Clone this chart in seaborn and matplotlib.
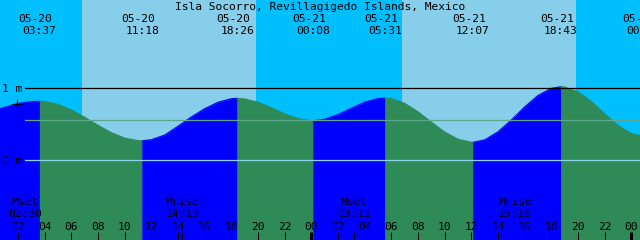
import matplotlib
matplotlib.use("Agg")
import matplotlib.pyplot as plt
import matplotlib.transforms as mtrans
import seaborn as sns
import pandas as pd

# ---------------- data ----------------
title = "Isla Socorro, Revillagigedo Islands, Mexico"

hours = list(range(0, 50))
levels = [0.69, 0.735, 0.79, 0.815, 0.817, 0.777, 0.699, 0.595, 0.482, 0.380,
          0.304, 0.268, 0.280, 0.346, 0.470, 0.600, 0.715, 0.806, 0.856, 0.853,
          0.806, 0.728, 0.644, 0.577, 0.547, 0.567, 0.632, 0.722, 0.807, 0.858,
          0.857, 0.791, 0.672, 0.527, 0.389, 0.287, 0.245, 0.278, 0.391, 0.557,
          0.741, 0.901, 1.001, 1.020, 0.953, 0.815, 0.643, 0.479, 0.366, 0.331]

extreme_hours = [3.617, 11.3, 18.433, 24.133, 29.517, 36.117, 42.717, 48.9]
extreme_levels = [0.82, 0.266, 0.861, 0.547, 0.865, 0.244, 1.024, 0.33]
extreme_dates = ["05-20", "05-20", "05-20", "05-21", "05-21", "05-21", "05-21", "05-22"]
extreme_times = ["03:37", "11:18", "18:26", "00:08", "05:31", "12:07", "18:43", "00:54"]

sunrise_hours = [6.78, 30.78]
sunset_hours = [19.87, 43.87]

moon_hours = [2.5, 14.317, 27.183, 39.267]
moon_events = ["Mset", "Mrise", "Mset", "Mrise"]
moon_times = ["02:30", "14:19", "03:11", "15:16"]

tick_hours = list(range(2, 49, 2))
tick_labels = ["%02d" % (h % 24) for h in tick_hours]
day_hours = [24, 48]

now_hour = 1.9
now_level = 0.777
mean_level = 0.553
datum_levels = [1.0, 0.0]
datum_labels = ["1 m", "0 m"]

# ---------------- style ----------------
NIGHT = "#00BFFF"
DAY = "#87CEEB"
RISE = "#0000FF"
FALL = "#2E8B57"
MSL = "#5BA88D"
ZERO = "#8fd2ee"
FONT = dict(family="DejaVu Sans Mono", size=8.1, color="black")

W, H = 640, 240
x0, x1 = 0.65, 48.65
y0, y1 = -1.126, 2.24

fig = plt.figure(figsize=(6.4, 2.4), dpi=100)
fig.patch.set_facecolor(NIGHT)
ax = fig.add_axes([0, 0, 1, 1])

# day bands
for sr, ss in zip(sunrise_hours, sunset_hours):
    ax.axvspan(sr, ss, color=DAY, lw=0, zorder=0)

# tide surface, coloured by rising/falling
df = pd.DataFrame({"hour": hours + extreme_hours,
                   "level": levels + extreme_levels}).sort_values("hour")
bounds = [hours[0]] + extreme_hours
bound_levels = [levels[0]] + extreme_levels
if hours[-1] > bounds[-1]:
    bounds.append(hours[-1])
    bound_levels.append(levels[-1])
segs = []
for k in range(len(bounds) - 1):
    a, b = bounds[k], bounds[k + 1]
    rising = bound_levels[k + 1] > bound_levels[k]
    sub = df[(df.hour >= a) & (df.hour <= b)].copy()
    sub["phase"] = "rise" if rising else "fall"
    sub["seg"] = k
    segs.append(sub)
    c = RISE if rising else FALL
    ax.fill_between(sub.hour, sub.level, y0 - 1, color=c, lw=0.3, ec=c, zorder=1)
tide = pd.concat(segs)
sns.lineplot(data=tide, x="hour", y="level", hue="phase", units="seg",
             estimator=None, palette={"rise": RISE, "fall": FALL},
             legend=False, lw=0.8, ax=ax, zorder=2)
ax.set_xlim(x0, x1)
ax.set_ylim(y0, y1)
ax.axis("off")

# reference lines
xs = 25 / W
ax.axhline(datum_levels[0], xmin=xs, xmax=1, color="black", lw=0.9, zorder=3)
ax.axhline(mean_level, xmin=xs, xmax=1, color=MSL, lw=0.9, zorder=3)
ax.axhline(datum_levels[1], xmin=xs, xmax=1, color=ZERO, lw=0.9, zorder=3)

# now marker
ax.plot([now_hour], [now_level], marker="+", ms=7, mew=0.8, color="black", zorder=4)

# left labels
lab_tr = mtrans.blended_transform_factory(fig.transFigure, ax.transData)
for lv, lb in zip(datum_levels, datum_labels):
    ax.text(2 / W, lv, lb, transform=lab_tr, ha="left", va="center_baseline",
            zorder=6, **FONT)

# top/bottom text rows: x in data, y in figure pixels
tr = mtrans.blended_transform_factory(ax.transData, fig.transFigure)
def fy(py):
    return 1 - py / H

fig.text(0.5, fy(6.5), title, ha="center", va="center_baseline", **FONT)
for h, d, t in zip(extreme_hours, extreme_dates, extreme_times):
    ax.text(h - 4 / 13.333, fy(18), d, transform=tr, ha="center", va="center_baseline", **FONT)
    ax.text(h, fy(30), t, transform=tr, ha="center", va="center_baseline", **FONT)

for h, e, t in zip(moon_hours, moon_events, moon_times):
    ax.text(h, fy(201), e, transform=tr, ha="center", va="center_baseline", **FONT)
    ax.text(h, fy(213), t, transform=tr, ha="center", va="center_baseline", **FONT)
    ax.vlines(h, 0, 8 / H, transform=tr, color="black", lw=0.75, zorder=5)

for h, lb in zip(tick_hours, tick_labels):
    ax.text(h, fy(226.5), lb, transform=tr, ha="center", va="center_baseline", **FONT)
    lw = 2.2 if h in day_hours else 0.75
    ax.vlines(h, 0, 8 / H, transform=tr, color="black", lw=lw, zorder=5)

fig.savefig("out.png", dpi=100, facecolor=NIGHT)
